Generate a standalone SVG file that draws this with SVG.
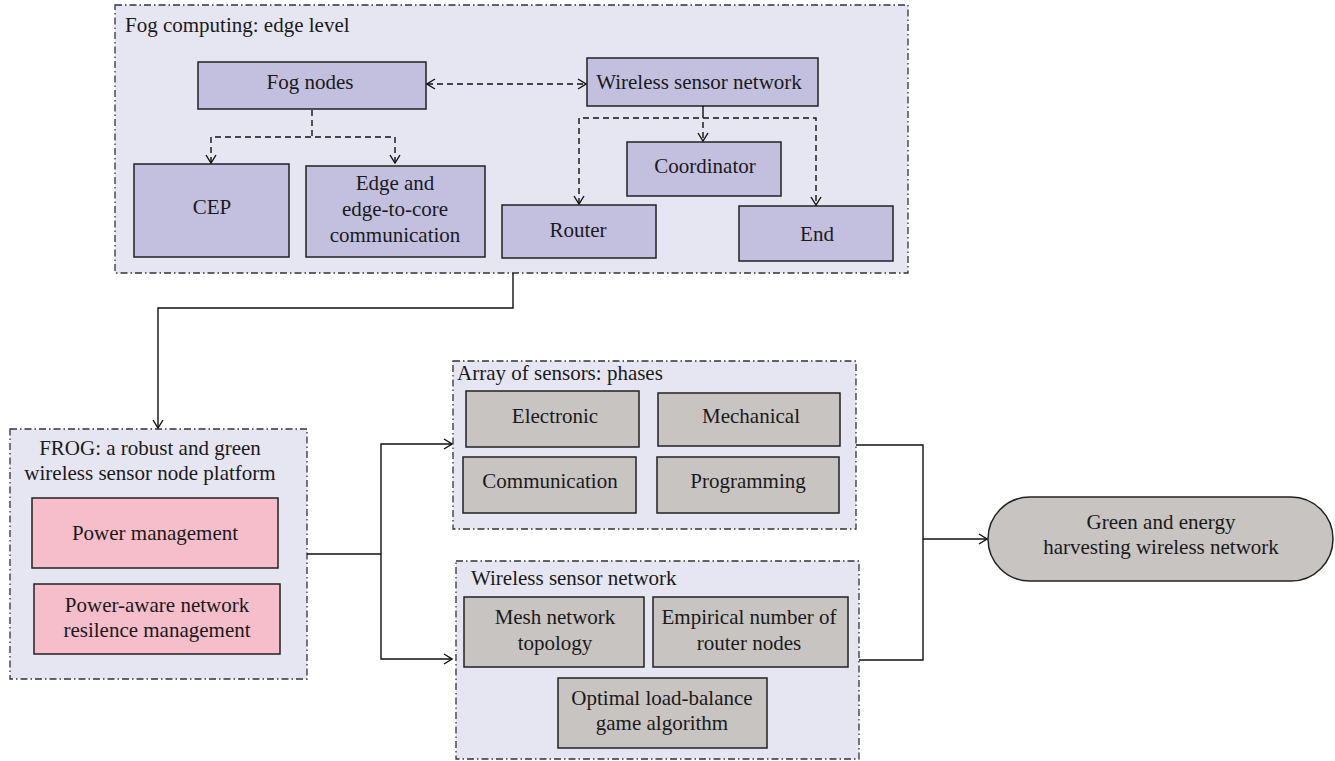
<svg xmlns="http://www.w3.org/2000/svg" width="1335" height="761" viewBox="0 0 1335 761">
<style>
text{font-family:"Liberation Serif","Times New Roman","DejaVu Serif",serif;font-size:21px;fill:#1a1a1a}
.c{text-anchor:middle}
.grp{fill:#e6e6f2;stroke:#333;stroke-width:1.3;stroke-dasharray:7 3 1.5 3}
.pu{fill:#c3c0df;stroke:#222;stroke-width:1.5}
.gr{fill:#c8c4c2;stroke:#222;stroke-width:1.5}
.pk{fill:#f6bdca;stroke:#222;stroke-width:1.5}
.sl{fill:none;stroke:#111;stroke-width:1.4}
.dl{fill:none;stroke:#111;stroke-width:1.4;stroke-dasharray:6 4}
</style>
<defs>
<marker id="ah" viewBox="0 0 10 12" markerWidth="10" markerHeight="12" refX="9" refY="6" orient="auto-start-reverse" markerUnits="userSpaceOnUse">
<path d="M1,1 L9,6 L1,11" fill="none" stroke="#111" stroke-width="1.4"/>
</marker>
</defs>
<rect width="1335" height="761" fill="#fff"/>

<g id="fog-container">
<rect class="grp" x="115" y="5" width="793" height="268"/>
<text x="125" y="32">Fog computing: edge level</text>
</g>
<g id="fog-nodes"><rect class="pu" x="198" y="62" width="228" height="47"/><text class="c" x="310" y="89">Fog nodes</text></g>
<g id="cep"><rect class="pu" x="134" y="164" width="155" height="93"/><text class="c" x="212" y="214">CEP</text></g>
<g id="edge"><rect class="pu" x="306" y="166" width="179" height="91"/>
<text class="c" x="395" y="190">Edge and</text><text class="c" x="395" y="216">edge-to-core</text><text class="c" x="395" y="242">communication</text></g>
<g id="wsn-top"><rect class="pu" x="587" y="58" width="231" height="48"/><text class="c" x="699" y="89">Wireless sensor network</text></g>
<g id="coordinator"><rect class="pu" x="627" y="142" width="154" height="54"/><text class="c" x="705" y="173">Coordinator</text></g>
<g id="router"><rect class="pu" x="502" y="205" width="154" height="53"/><text class="c" x="578" y="237">Router</text></g>
<g id="end"><rect class="pu" x="739" y="206" width="154" height="55"/><text class="c" x="817" y="241">End</text></g>

<g id="frog">
<rect class="grp" x="10" y="429" width="297" height="250"/>
<text class="c" x="150" y="455">FROG: a robust and green</text>
<text class="c" x="150" y="480">wireless sensor node platform</text>
</g>
<g id="power-mgmt"><rect class="pk" x="32" y="498" width="246" height="70"/><text class="c" x="155" y="540">Power management</text></g>
<g id="power-aware"><rect class="pk" x="34" y="584" width="246" height="70"/>
<text class="c" x="157" y="612">Power-aware network</text><text class="c" x="157" y="637">resilence management</text></g>

<g id="array">
<rect class="grp" x="453" y="361" width="403" height="168"/>
<text x="457" y="380">Array of sensors: phases</text>
</g>
<g id="electronic"><rect class="gr" x="466" y="391" width="173" height="56"/><text class="c" x="555" y="423">Electronic</text></g>
<g id="mechanical"><rect class="gr" x="658" y="393" width="182" height="53"/><text class="c" x="751" y="423">Mechanical</text></g>
<g id="communication"><rect class="gr" x="463" y="457" width="173" height="56"/><text class="c" x="550" y="488">Communication</text></g>
<g id="programming"><rect class="gr" x="657" y="457" width="182" height="56"/><text class="c" x="748" y="488">Programming</text></g>

<g id="wsn">
<rect class="grp" x="456" y="561" width="403" height="198"/>
<text x="471" y="585">Wireless sensor network</text>
</g>
<g id="mesh"><rect class="gr" x="464" y="597" width="180" height="70"/>
<text class="c" x="555" y="624">Mesh network</text><text class="c" x="555" y="650">topology</text></g>
<g id="empirical"><rect class="gr" x="653" y="597" width="195" height="70"/>
<text class="c" x="749" y="624">Empirical number of</text><text class="c" x="749" y="650">router nodes</text></g>
<g id="optimal"><rect class="gr" x="558" y="678" width="209" height="70"/>
<text class="c" x="662" y="705">Optimal load-balance</text><text class="c" x="662" y="730">game algorithm</text></g>

<g id="green"><rect class="gr" x="988" y="497" width="345" height="84" rx="42" ry="42"/>
<text class="c" x="1161" y="529">Green and energy</text><text class="c" x="1161" y="554">harvesting wireless network</text></g>

<g id="connectors">
<line class="dl" x1="427" y1="84" x2="586" y2="84" marker-start="url(#ah)" marker-end="url(#ah)"/>
<line class="dl" x1="312" y1="110" x2="312" y2="137"/>
<polyline class="dl" points="211,163 211,137 395,137 395,163" marker-start="url(#ah)" marker-end="url(#ah)"/>
<line class="sl" x1="703" y1="106" x2="703" y2="112"/>
<line class="dl" x1="703" y1="112" x2="703" y2="141" marker-end="url(#ah)"/>
<polyline class="dl" points="579,204 579,118 816,118 816,205" marker-start="url(#ah)" marker-end="url(#ah)"/>
<polyline class="sl" points="513,273 513,308 158,308 158,428" marker-end="url(#ah)"/>
<line class="sl" x1="307" y1="554" x2="381" y2="554"/>
<polyline class="sl" points="452,444 381,444 381,659 452,659" marker-start="url(#ah)" marker-end="url(#ah)"/>
<polyline class="sl" points="856,445 923,445 923,660 859,660"/>
<line class="sl" x1="923" y1="539" x2="987" y2="539" marker-end="url(#ah)"/>
</g>
</svg>
